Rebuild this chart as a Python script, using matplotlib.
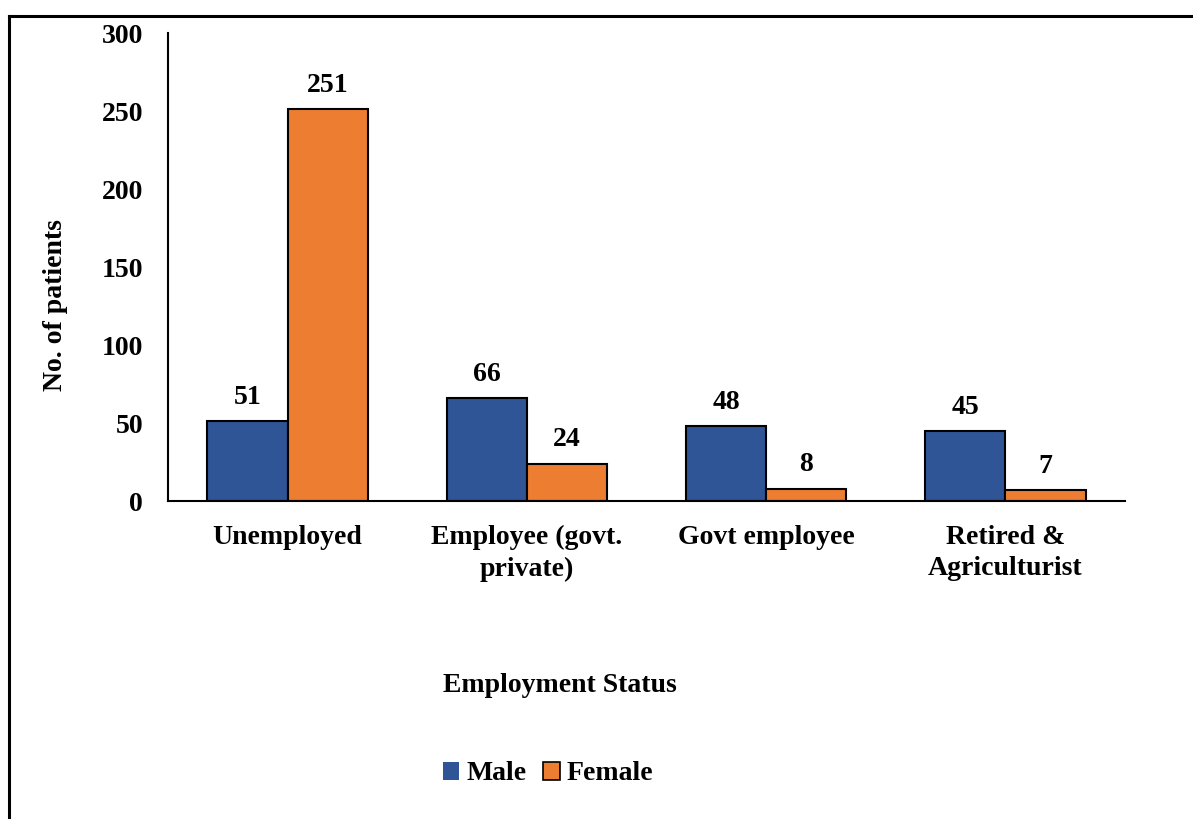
import matplotlib.pyplot as plt
import numpy as np
from matplotlib.lines import Line2D
from matplotlib.patches import Patch

categories = ['Unemployed', 'Employee (govt.\nprivate)', 'Govt employee', 'Retired &\nAgriculturist']
male = [51, 66, 48, 45]
female = [251, 24, 8, 7]
yticks = [0, 50, 100, 150, 200, 250, 300]

male_color = '#2F5597'
female_color = '#ED7D31'

plt.rcParams['font.family'] = ['Liberation Serif', 'DejaVu Serif']
plt.rcParams['font.weight'] = 'bold'

fig = plt.figure(figsize=(11.93, 8.19), dpi=100)
W, H = 1193, 819
ax = fig.add_axes([168 / W, 1 - 501 / H, (1125 - 168) / W, (501 - 33) / H])

x = np.arange(len(categories))
width = 0.335
b1 = ax.bar(x - width / 2, male, width, color=male_color, edgecolor='black', linewidth=1.5)
b2 = ax.bar(x + width / 2, female, width, color=female_color, edgecolor='black', linewidth=1.5)

for bars, vals in [(b1, male), (b2, female)]:
    for rect, v in zip(bars, vals):
        ax.annotate(str(v), (rect.get_x() + rect.get_width() / 2, v),
                    xytext=(0, 8), textcoords='offset points',
                    ha='center', va='bottom', fontsize=20, fontweight='bold')

ax.set_xlim(-0.5, len(categories) - 0.5)
ax.set_ylim(0, 300)
ax.set_yticks(yticks)
ax.set_xticks(x)
ax.set_xticklabels(categories, fontsize=20, fontweight='bold', linespacing=1.35)
ax.tick_params(axis='both', length=0, labelsize=20)
ax.tick_params(axis='x', pad=17)
ax.tick_params(axis='y', pad=18)
for lbl in ax.get_yticklabels():
    lbl.set_fontweight('bold')

for side in ['top', 'right']:
    ax.spines[side].set_visible(False)
ax.spines['left'].set_linewidth(1.5)
ax.spines['bottom'].set_linewidth(1.5)

fig.text(55 / W, 1 - 305 / H, 'No. of patients', rotation=90, ha='center', va='center',
         fontsize=20, fontweight='bold')
fig.text(560 / W, 1 - 686 / H, 'Employment Status', ha='center', va='center',
         fontsize=20, fontweight='bold')

handles = [Patch(facecolor=male_color, edgecolor='none'),
           Patch(facecolor=female_color, edgecolor='black', linewidth=1.2)]
fig.legend(handles, ['Male', 'Female'], loc='center', bbox_to_anchor=(548 / W, 1 - 774 / H),
           ncol=2, frameon=False, prop={'size': 20, 'weight': 'bold'},
           handlelength=0.6, handleheight=0.6, handletextpad=0.25, columnspacing=0.6)

# outer frame: top and left edges only
fig.add_artist(Line2D([9 / W, 1], [1 - 16 / H, 1 - 16 / H], color='black', linewidth=2.2))
fig.add_artist(Line2D([9 / W, 9 / W], [0, 1 - 16 / H], color='black', linewidth=2.2))

fig.savefig('out.png', dpi=100)
